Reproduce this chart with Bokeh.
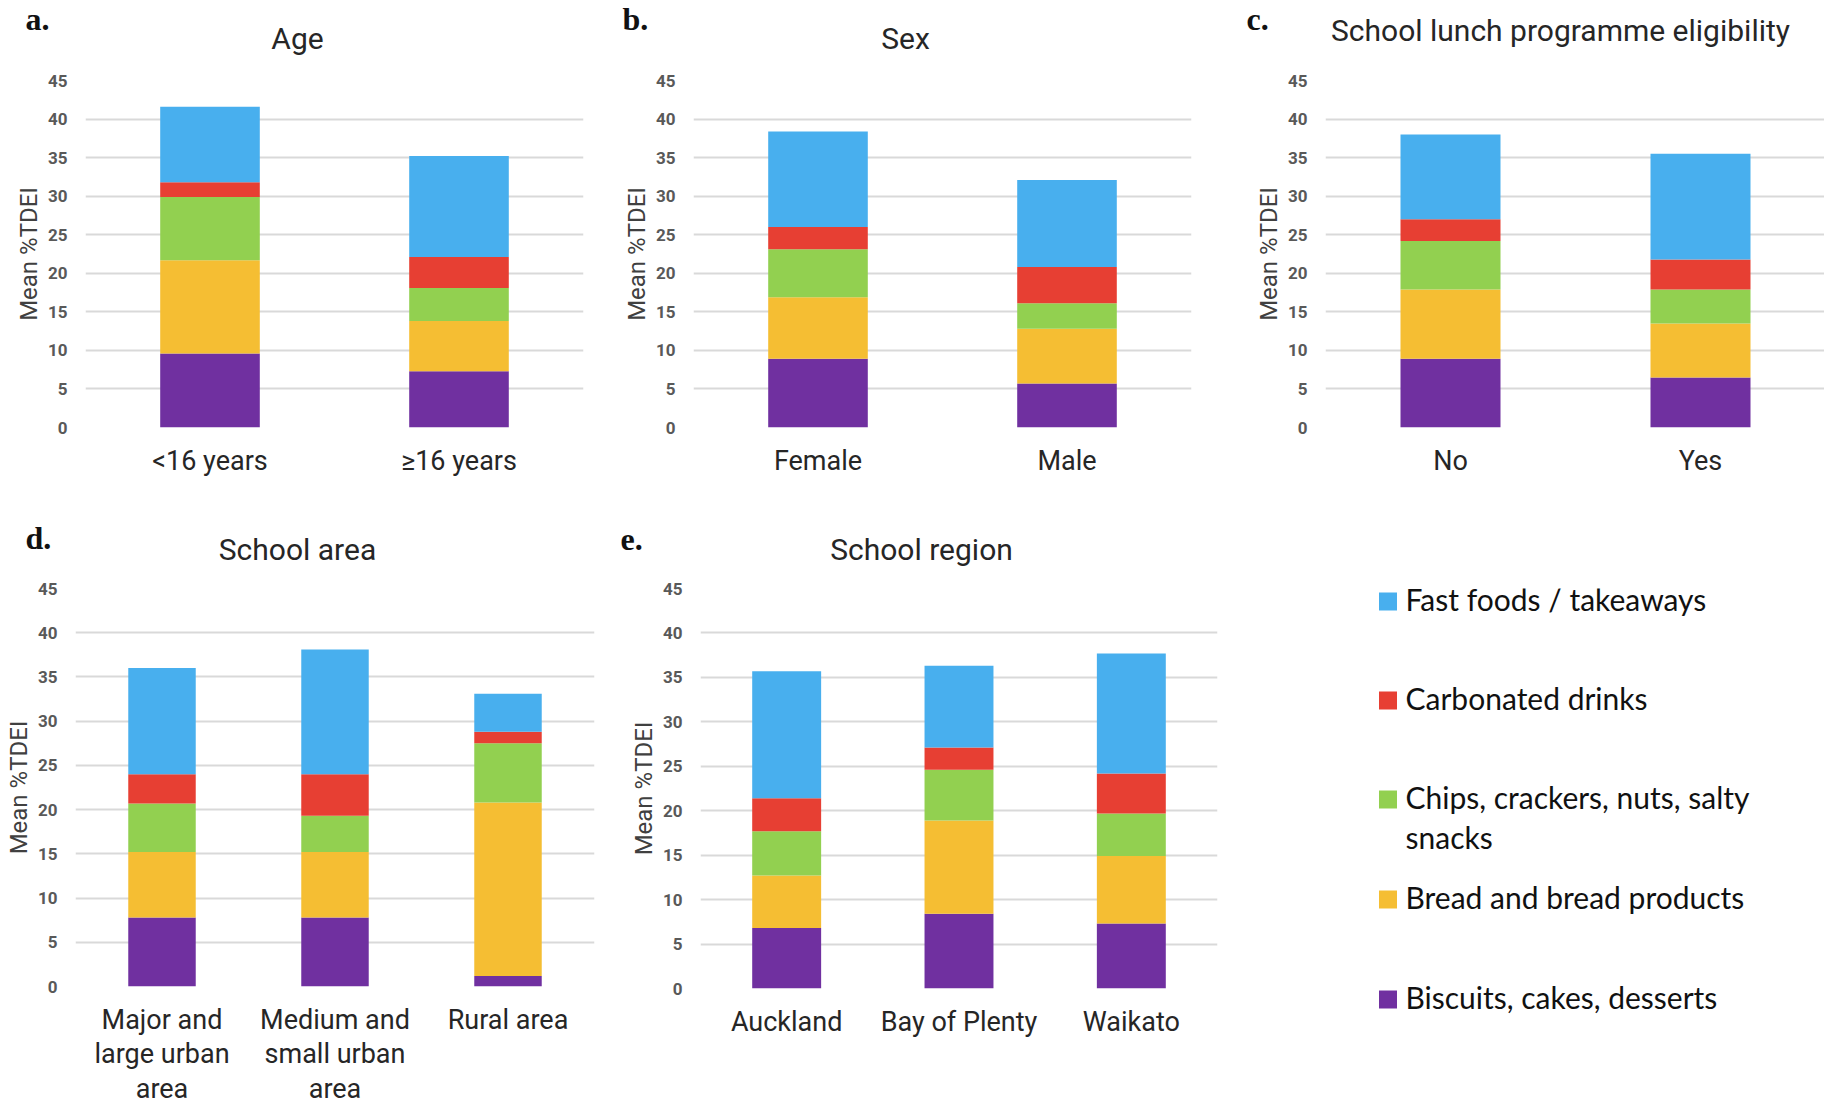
from bokeh.plotting import figure
from bokeh.models import (ColumnDataSource, FactorRange, Range1d, FixedTicker, Label,
                          GlobalInlineStyleSheet)
from bokeh.layouts import row, column
from bokeh.embed import file_html
from bokeh.resources import INLINE

# ---------------- data ----------------
SERIES = ["biscuits", "bread", "chips", "carbonated", "fastfood"]
COLORS = ["#7030A0", "#F5BE33", "#92D050", "#E73F33", "#48AFEE"]
Y_TICKS = [0, 5, 10, 15, 20, 25, 30, 35, 40, 45]

# legend, top to bottom
LEGEND_SERIES = ["fastfood", "carbonated", "chips", "bread", "biscuits"]
LEGEND_LABELS = ["Fast foods / takeaways", "Carbonated drinks",
                 "Chips, crackers, nuts, salty\nsnacks", "Bread and bread products",
                 "Biscuits, cakes, desserts"]

age_categories = ["<16 years", "\u226516 years"]
age_biscuits = [9.6, 7.3]
age_bread = [12.1, 6.5]
age_chips = [8.2, 4.3]
age_carbonated = [1.9, 4.0]
age_fastfood = [9.8, 13.1]

sex_categories = ["Female", "Male"]
sex_biscuits = [8.9, 5.7]
sex_bread = [8.0, 7.1]
sex_chips = [6.2, 3.3]
sex_carbonated = [2.9, 4.7]
sex_fastfood = [12.4, 11.3]

lunch_categories = ["No", "Yes"]
lunch_biscuits = [8.9, 6.5]
lunch_bread = [9.0, 7.0]
lunch_chips = [6.3, 4.4]
lunch_carbonated = [2.8, 3.9]
lunch_fastfood = [11.0, 13.7]

area_categories = ["Major and\nlarge urban\narea", "Medium and\nsmall urban\narea", "Rural area"]
area_biscuits = [7.8, 7.8, 1.2]
area_bread = [7.4, 7.4, 19.6]
area_chips = [5.5, 4.1, 6.7]
area_carbonated = [3.3, 4.7, 1.3]
area_fastfood = [12.0, 14.1, 4.3]

region_categories = ["Auckland", "Bay of Plenty", "Waikato"]
region_biscuits = [6.8, 8.4, 7.3]
region_bread = [5.9, 10.5, 7.6]
region_chips = [5.0, 5.7, 4.8]
region_carbonated = [3.7, 2.5, 4.5]
region_fastfood = [14.3, 9.2, 13.5]

FONT = "Roboto"
TXT = "#262626"
AX = "#404040"
TOTAL_W = 1825


def panel(cats, cols, bar_w, fw, fh, bl, br, bt, bb):
    src = ColumnDataSource(dict(cat=cats, **dict(zip(SERIES, cols))))
    p = figure(x_range=FactorRange(*cats), y_range=Range1d(0, 45),
               frame_width=fw, frame_height=fh,
               min_border_left=bl, min_border_right=br, min_border_top=bt, min_border_bottom=bb,
               toolbar_location=None, output_backend="svg", tools="")
    p.vbar_stack(SERIES, x="cat", width=bar_w, source=src,
                 fill_color=COLORS, line_color=None)
    p.outline_line_color = None
    p.xgrid.grid_line_color = None
    p.ygrid.grid_line_color = "#D9D9D9"
    p.ygrid.grid_line_width = 2
    p.yaxis.ticker = FixedTicker(ticks=Y_TICKS)
    for ax in (p.xaxis[0], p.yaxis[0]):
        ax.axis_line_color = None
        ax.major_tick_line_color = None
        ax.minor_tick_line_color = None
        ax.major_tick_out = 0
        ax.major_tick_in = 0
        ax.minor_tick_out = 0
        ax.minor_tick_in = 0
    xa = p.xaxis[0]
    xa.major_label_text_font = FONT
    xa.major_label_text_font_size = "27px"
    xa.major_label_text_color = TXT
    xa.major_label_standoff = 17
    xa.major_label_text_line_height = 1.08
    ya = p.yaxis[0]
    ya.major_label_text_font = FONT
    ya.major_label_text_font_size = "17px"
    ya.major_label_text_font_style = "bold"
    ya.major_label_text_color = "#595959"
    ya.major_label_standoff = 18
    ya.axis_label = "Mean %TDEI"
    ya.axis_label_text_font = FONT
    ya.axis_label_text_font_size = "24px"
    ya.axis_label_text_font_style = "normal"
    ya.axis_label_text_color = AX
    ya.axis_label_standoff = 2
    return p


def strip(height, texts):
    s = figure(width=TOTAL_W, height=height, min_border=0, x_range=Range1d(0, TOTAL_W),
               y_range=Range1d(0, height), toolbar_location=None, output_backend="svg", tools="")
    s.axis.visible = False
    s.grid.grid_line_color = None
    s.outline_line_color = None
    for txt, x, y, kind in texts:
        if kind == "letter":
            s.add_layout(Label(x=x, y=y, text=txt, text_align="left", text_baseline="alphabetic",
                               text_font="Liberation Serif", text_font_style="bold",
                               text_font_size="32px", text_color="#111111"))
        else:
            s.add_layout(Label(x=x, y=y, text=txt, text_align="center", text_baseline="alphabetic",
                               text_font=FONT, text_font_size="30px", text_color=TXT))
    return s


# headings of row 1 (strip 56 px tall) and row 2 (strip 58 px tall)
s1 = strip(56, [("a.", 25, 38, "letter"), ("Age", 297, 18, "title"),
                ("b.", 622, 38, "letter"), ("Sex", 905, 18, "title"),
                ("c.", 1246, 38, "letter"), ("School lunch programme eligibility", 1560, 26, "title")])
s2 = strip(58, [("d.", 25, 29, "letter"), ("School area", 297, 17, "title"),
                ("e.", 620, 27, "letter"), ("School region", 921, 17, "title")])

pa = panel(age_categories, [age_biscuits, age_bread, age_chips, age_carbonated, age_fastfood],
           0.4, 498, 347, 85, 32, 24, 81)
pb = panel(sex_categories, [sex_biscuits, sex_bread, sex_chips, sex_carbonated, sex_fastfood],
           0.4, 498, 347, 78, 46, 24, 81)
pc = panel(lunch_categories, [lunch_biscuits, lunch_bread, lunch_chips, lunch_carbonated, lunch_fastfood],
           0.4, 500, 347, 88, 0, 24, 81)
pd = panel(area_categories, [area_biscuits, area_bread, area_chips, area_carbonated, area_fastfood],
           0.39, 519, 398, 75, 18, 21, 107)
pe = panel(region_categories, [region_biscuits, region_bread, region_chips, region_carbonated, region_fastfood],
           0.4, 517, 400, 88, 21, 22, 104)

# ---------------- legend panel (keys in the panel's own pixel space) ----------------
PL_W, PL_H = 587, 526
pl = figure(frame_width=PL_W, frame_height=PL_H, min_border=0, x_range=Range1d(0, PL_W),
            y_range=Range1d(0, PL_H), toolbar_location=None, output_backend="svg", tools="")
pl.axis.visible = False
pl.grid.grid_line_color = None
pl.outline_line_color = None
color_of = dict(zip(SERIES, COLORS))
key_y = [513, 414, 315, 215, 115]          # key centres, measured up from the panel bottom
pl.scatter(x=[149.5] * len(LEGEND_SERIES), y=key_y, marker="square", size=18,
           fill_color=[color_of[s] for s in LEGEND_SERIES], line_color=None)
for lbl, yc in zip(LEGEND_LABELS, key_y):
    for k, line in enumerate(lbl.split("\n")):
        pl.add_layout(Label(x=167, y=yc + 3 - 40 * k, text=line, text_align="left",
                            text_baseline="alphabetic", text_font="Lato",
                            text_font_size="30px", text_color="#111111"))

layout = column(s1, row(pa, pb, pc), s2, row(pd, pe, pl),
                stylesheets=[GlobalInlineStyleSheet(css="html, body {overflow: hidden;}")])

open("out.html", "w").write(file_html(layout, INLINE))
